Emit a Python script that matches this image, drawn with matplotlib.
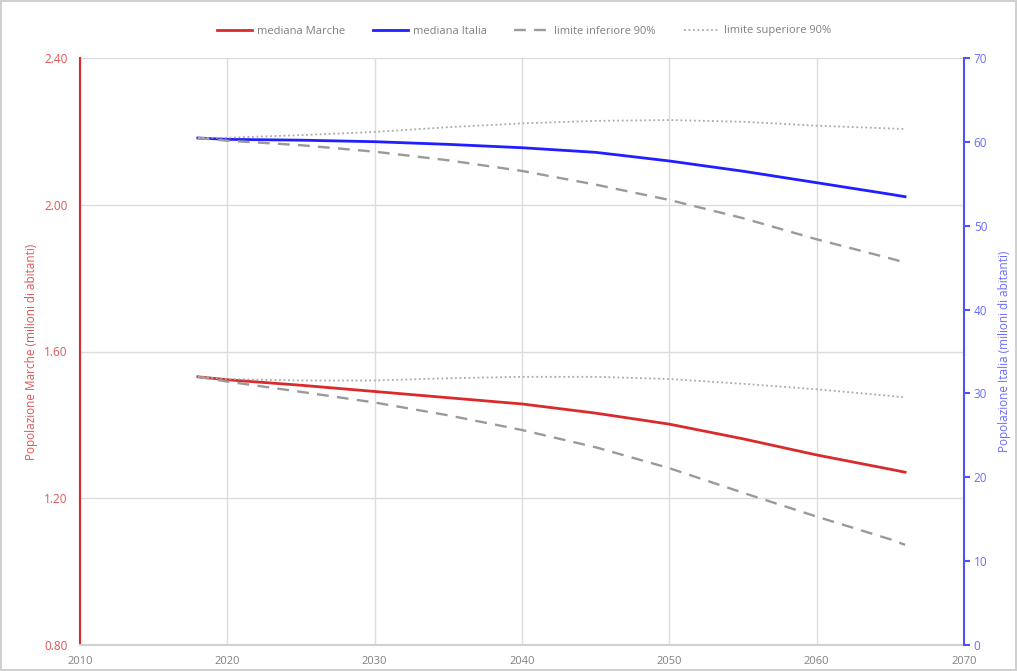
import matplotlib.pyplot as plt
from matplotlib.lines import Line2D

plt.rcParams["font.family"] = ["Open Sans", "DejaVu Sans"]

years = [2018, 2020, 2025, 2030, 2035, 2040, 2045, 2050, 2055, 2060, 2065, 2066]

# Marche (milioni di abitanti)
marche_med = [1.531, 1.523, 1.508, 1.491, 1.474, 1.457, 1.432, 1.402, 1.362, 1.318, 1.279, 1.271]
marche_inf = [1.531, 1.518, 1.490, 1.461, 1.426, 1.386, 1.339, 1.282, 1.215, 1.150, 1.088, 1.073]
marche_sup = [1.531, 1.525, 1.521, 1.521, 1.527, 1.531, 1.531, 1.525, 1.512, 1.497, 1.479, 1.475]

# Italia (milioni di abitanti)
italia_med = [60.46, 60.30, 60.20, 60.02, 59.70, 59.30, 58.75, 57.72, 56.50, 55.13, 53.75, 53.46]
italia_inf = [60.46, 60.14, 59.60, 58.83, 57.80, 56.53, 54.90, 53.07, 50.90, 48.38, 46.10, 45.60]
italia_sup = [60.46, 60.50, 60.80, 61.18, 61.75, 62.20, 62.50, 62.60, 62.40, 61.93, 61.60, 61.53]

RED = "#d92b2b"
RED_TXT = "#e05555"
BLUE = "#1f1fff"
BLUE_TXT = "#6b6bff"
GREY_D = "#9a9a9a"
GREY_P = "#aaaaaa"
GRID = "#dcdcdc"
TXT = "#808080"
DASH = (0, (5, 3.5))
DOT = (0, (1, 1.5))

fig = plt.figure(figsize=(10.17, 6.71), dpi=100)
fig.patch.set_edgecolor("#d0d0d0")
fig.patch.set_linewidth(1.5)
ax = fig.add_axes([80 / 1017, 26 / 671, 884 / 1017, 587 / 671])
ax2 = ax.twinx()

ax.plot(years, marche_med, color=RED, lw=2)
ax.plot(years, marche_inf, color=GREY_D, lw=1.7, ls=DASH)
ax.plot(years, marche_sup, color=GREY_P, lw=1.3, ls=DOT)

ax2.plot(years, italia_med, color=BLUE, lw=2)
ax2.plot(years, italia_inf, color=GREY_D, lw=1.7, ls=DASH)
ax2.plot(years, italia_sup, color=GREY_P, lw=1.3, ls=DOT)

ax.set_xlim(2010, 2070)
ax.set_ylim(0.80, 2.40)
ax2.set_ylim(0, 70)
ax.set_xticks(range(2010, 2071, 10))
ax.set_yticks([0.80, 1.20, 1.60, 2.00, 2.40])
ax.set_yticklabels([f"{v:.2f}" for v in [0.80, 1.20, 1.60, 2.00, 2.40]])
ax2.set_yticks(range(0, 71, 10))

ax.grid(True, color=GRID, lw=1)
ax.set_axisbelow(True)

for a in (ax, ax2):
    a.spines["top"].set_visible(False)
ax.spines["left"].set_color(RED)
ax.spines["left"].set_linewidth(1.5)
ax.spines["right"].set_visible(False)
ax2.spines["left"].set_visible(False)
ax2.spines["right"].set_color("#5050ff")
ax2.spines["right"].set_linewidth(1.5)
ax.spines["bottom"].set_color("#d0d0d0")
ax.spines["bottom"].set_linewidth(1.5)
ax2.spines["bottom"].set_visible(False)

ax.tick_params(axis="x", length=0, labelsize=8, colors=TXT, pad=8)
ax.tick_params(axis="y", length=0, labelsize=8.5, labelcolor=RED_TXT, pad=9)
ax2.tick_params(axis="y", length=4, width=1.5, color="#5050ff", labelsize=8.5,
                labelcolor=BLUE_TXT, pad=3)

ax.set_ylabel("Popolazione Marche (milioni di abitanti)", color=RED_TXT, fontsize=8.5, labelpad=4)
ax2.set_ylabel("Popolazione Italia (milioni di abitanti)", color=BLUE_TXT, fontsize=8.5, labelpad=8)

handles = [
    Line2D([], [], color=RED, lw=2),
    Line2D([], [], color=BLUE, lw=2),
    Line2D([], [], color=GREY_D, lw=1.7, ls=DASH),
    Line2D([], [], color=GREY_P, lw=1.3, ls=DOT),
]
labels = ["mediana Marche", "mediana Italia", "limite inferiore 90%", "limite superiore 90%"]
leg = fig.legend(handles, labels, loc="center", bbox_to_anchor=(0.515, 1 - 31 / 671), ncol=4,
                 frameon=False, fontsize=8, handlelength=3.2, columnspacing=2.5, handletextpad=0.4)
for t in leg.get_texts():
    t.set_color(TXT)

fig.savefig("out.png", dpi=100)
